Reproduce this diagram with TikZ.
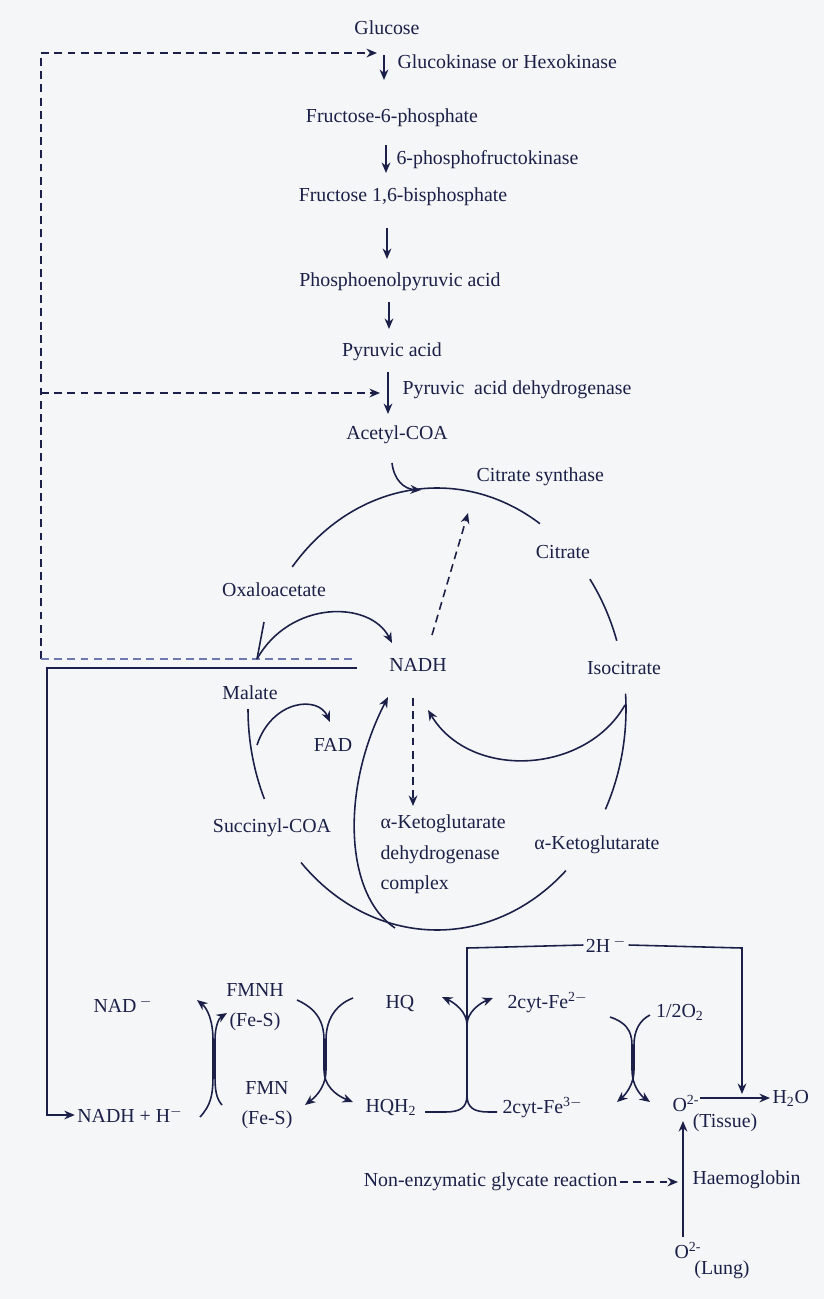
\documentclass[tikz,border=0pt]{standalone}
\usepackage{fontspec}
\setmainfont{Liberation Serif}
\usetikzlibrary{arrows.meta}
\definecolor{ink}{RGB}{28,32,72}
\definecolor{paper}{RGB}{244,246,247}
\definecolor{pale}{RGB}{110,122,175}

\begin{document}
\begin{tikzpicture}[x=0.02cm,y=-0.02cm,line width=0.9pt,color=ink,
  >={Stealth[length=6pt,width=5pt]}]
  \tikzset{lbl/.style={inner sep=1pt,font=\fontsize{11.3}{13.5}\selectfont},
           two/.style={lbl,align=center,font=\fontsize{11.3}{17}\selectfont},
           dsh/.style={dash pattern=on 4.5pt off 3pt}};
  \fill[paper] (0,0) rectangle (824,1299);
  \useasboundingbox (0,0) rectangle (824,1299);

  % glycolysis
  \node[lbl] (glc) at (387,28) {Glucose};
  \node[lbl,anchor=west] (gk) at (395,62) {Glucokinase or Hexokinase};
  \node[lbl] (f6p) at (392,118) {Fructose-6-phosphate};
  \node[lbl,anchor=west] (pfk) at (394,160) {6-phosphofructokinase};
  \node[lbl] (fbp) at (403,197) {Fructose 1,6-bisphosphate};
  \node[lbl] (pep) at (400,282) {Phosphoenolpyruvic acid};
  \node[lbl] (pyr) at (392,352) {Pyruvic acid};
  \node[lbl,anchor=west] (pdh) at (400,390) {Pyruvic\ \ acid dehydrogenase};
  \node[lbl] (acoa) at (397,435) {Acetyl-COA};

  \coordinate (g1) at (384,55);  \coordinate (g2) at (384,80);
  \coordinate (g3) at (386,145); \coordinate (g4) at (386,173);
  \coordinate (g5) at (387,228); \coordinate (g6) at (387,259);
  \coordinate (g7) at (389,302); \coordinate (g8) at (389,329);
  \coordinate (g9) at (388,372); \coordinate (g10) at (388,414);
  \draw[->] (g1) -- (g2);
  \draw[->] (g3) -- (g4);
  \draw[->] (g5) -- (g6);
  \draw[->] (g7) -- (g8);
  \draw[->] (g9) -- (g10);

  % feedback lines on the left
  \coordinate (d0) at (41,53);  \coordinate (d1) at (377,53);
  \coordinate (d2) at (41,393); \coordinate (d3) at (380,393);
  \coordinate (d4) at (41,659); \coordinate (d5) at (357,659);
  \coordinate (s0) at (357,668); \coordinate (s1) at (47,668);
  \coordinate (s2) at (47,1115);
  \draw[dsh,->] (d4) -- (d0) -- (d1);
  \draw[dsh,->] (d2) -- (d3);
  \draw[dsh,pale] (d4) -- (d5);

  % citric acid cycle
  \node[lbl,anchor=west] (cs) at (474,477) {Citrate synthase};
  \node[lbl] (cit) at (563,552) {Citrate};
  \node[lbl] (oaa) at (274,590) {Oxaloacetate};
  \node[lbl] (nadh) at (418,665) {NADH};
  \node[lbl] (icit) at (624,668) {Isocitrate};
  \node[lbl] (mal) at (250,693) {Malate};
  \node[lbl] (fad) at (333,745) {FAD};
  \node[lbl] (scoa) at (272,828) {Succinyl-COA};
  \node[lbl,anchor=north west,align=left,font=\fontsize{11.3}{17.5}\selectfont]
    (akgdh) at (378,812) {α-Ketoglutarate\\dehydrogenase\\complex};
  \node[lbl] (akg) at (597,845) {α-Ketoglutarate};

  \begin{scope}[shift={(437,709)}]
    \foreach \a/\b in {-140/-57,-36/-18,-4/27,47/136,156/180}
      \draw (\a:189 and 221) arc[start angle=\a,end angle=\b,x radius=189,y radius=221];
  \end{scope}

  \coordinate (c1) at (392,463); \coordinate (c2) at (421,490);
  \draw[->] (c1) .. controls (394,480) and (404,489) .. (c2);
  \coordinate (n1) at (432,635); \coordinate (n2) at (468,513);
  \draw[dsh,->] (n1) -- (n2);
  \coordinate (n3) at (413,698); \coordinate (n4) at (413,806);
  \draw[dsh,->] (n3) -- (n4);
  \coordinate (o1) at (257,659); \coordinate (o2) at (264,622);
  \coordinate (o3) at (392,643);
  \draw[->] (o1) .. controls (290,600) and (370,600) .. (o3);
  \draw (o1) -- (o2);
  \coordinate (m1) at (257,745); \coordinate (m2) at (330,722);
  \draw[->] (m1) .. controls (272,700) and (318,695) .. (m2);
  \coordinate (b1) at (395,928); \coordinate (b2) at (388,697);
  \draw[->] (b1) .. controls (345,895) and (340,790) .. (b2);
  \coordinate (i1) at (625,705); \coordinate (i2) at (428,710);
  \draw[->] (i1) .. controls (585,775) and (470,780) .. (i2);

  % electron transport chain
  \node[lbl] (h2) at (606,945) {2H\textsuperscript{ $-$}};
  \node[lbl] (nad) at (123,1005) {NAD\textsuperscript{ $-$}};
  \node[two] (fmnh) at (255,1007) {FMNH\\(Fe-S)};
  \node[lbl] (hq) at (400,1004) {HQ};
  \node[lbl,anchor=west] (cyt2) at (505,1003) {2cyt-Fe\textsuperscript{2$-$}};
  \node[lbl] (oxh) at (680,1012) {1/2O\textsubscript{2}};
  \node[lbl] (nadhh) at (130,1115) {NADH + H\textsuperscript{$-$}};
  \node[two] (fmn) at (267,1105) {FMN\\(Fe-S)};
  \node[lbl,anchor=west] (hqh) at (363,1108) {HQH\textsubscript{2}};
  \node[lbl,anchor=west] (cyt3) at (500,1108) {2cyt-Fe\textsuperscript{3$-$}};
  \node[lbl] (o2t) at (686,1103) {O\textsuperscript{2-}};
  \node[lbl] (tis) at (725,1123) {(Tissue)};
  \node[lbl,anchor=west] (h2o) at (770,1098) {H\textsubscript{2}O};
  \node[lbl,anchor=east] (nez) at (620,1182) {Non-enzymatic glycate reaction};
  \node[lbl,anchor=west] (hb) at (690,1180) {Haemoglobin};
  \node[lbl] (o2l) at (688,1250) {O\textsuperscript{2-}};
  \node[lbl] (lung) at (722,1270) {(Lung)};

  \draw[->,line width=0.8pt] (s0) -- (s1) -- (s2) -- (nadhh.west);

  % NADH -> FMN
  \coordinate (x1) at (200,1117); \coordinate (x2) at (197,1000);
  \coordinate (x3) at (222,1105); \coordinate (x4) at (227,1013);
  \draw[->] (x1) .. controls (211,1105) and (213,1095) .. (213,1075) -- (213,1040)
    .. controls (213,1020) and (207,1008) .. (x2);
  \draw[->] (x3) .. controls (216,1098) and (215,1090) .. (215,1075) -- (215,1040)
    .. controls (215,1026) and (219,1018) .. (x4);
  % FMN -> Q
  \coordinate (y1) at (297,1000); \coordinate (y2) at (353,1102);
  \coordinate (y3) at (353,998);  \coordinate (y4) at (305,1105);
  \draw[->] (y1) .. controls (315,1008) and (324,1020) .. (324,1040) -- (324,1070)
    .. controls (324,1085) and (335,1095) .. (y2);
  \draw[->] (y3) .. controls (335,1005) and (326,1020) .. (326,1040) -- (326,1070)
    .. controls (326,1085) and (318,1095) .. (y4);
  % Q -> cytochrome
  \coordinate (q0) at (467,948); \coordinate (q1) at (467,1025);
  \coordinate (q2) at (442,997); \coordinate (q3) at (493,998);
  \coordinate (q4) at (425,1112); \coordinate (q5) at (497,1112);
  \draw (h2.west) -- (q0) -- (467,1098);
  \draw (q4) -- (445,1112) .. controls (460,1112) and (467,1108) .. (467,1095);
  \draw (q5) -- (489,1112) .. controls (474,1112) and (467,1108) .. (467,1095);
  \draw[->] (q1) .. controls (467,1012) and (455,1003) .. (q2);
  \draw[->] (q1) .. controls (467,1012) and (480,1003) .. (q3);
  % cytochrome -> oxygen
  \coordinate (z1) at (610,1017); \coordinate (z2) at (650,1102);
  \coordinate (z3) at (650,1015); \coordinate (z4) at (617,1102);
  \draw[->] (z1) .. controls (625,1022) and (632,1030) .. (632,1045) -- (632,1070)
    .. controls (632,1085) and (640,1095) .. (z2);
  \draw[->] (z3) .. controls (640,1020) and (634,1030) .. (634,1045) -- (634,1070)
    .. controls (634,1085) and (625,1095) .. (z4);
  % water
  \coordinate (w0) at (742,948); \coordinate (w1) at (742,1094);
  \coordinate (w2) at (700,1098);
  \draw[->] (h2.east) -- (w0) -- (w1);
  \draw[->] (w2) -- (h2o.west);
  % haemoglobin
  \coordinate (l1) at (683,1237); \coordinate (l2) at (683,1121);
  \coordinate (l3) at (678,1182);
  \draw[->] (l1) -- (l2);
  \draw[dsh,->] (nez.east) -- (l3);
\end{tikzpicture}
\end{document}
